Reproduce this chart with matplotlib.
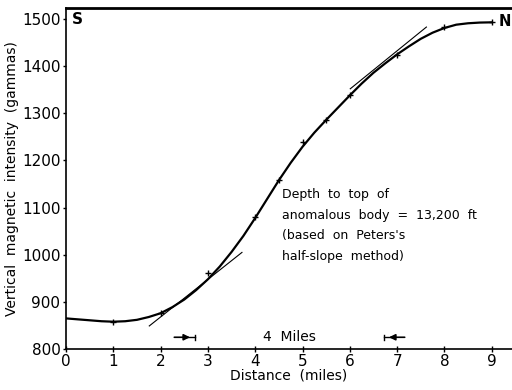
import matplotlib
matplotlib.use("Agg")
import matplotlib.pyplot as plt

# observed stations (miles, gammas)
obs_x = [1, 2, 3, 4, 4.5, 5, 5.5, 6, 7, 8, 9]
obs_y = [858, 877, 962, 1081, 1159, 1240, 1285, 1338, 1424, 1484, 1493]

# smoothed profile
curve_x = [0, 0.25, 0.5, 0.75, 1, 1.25, 1.5, 1.75, 2, 2.25, 2.5, 2.75, 3, 3.25,
           3.5, 3.75, 4, 4.25, 4.5, 4.75, 5, 5.25, 5.5, 5.75, 6, 6.25, 6.5, 6.75,
           7, 7.25, 7.5, 7.75, 8, 8.25, 8.5, 8.75, 9]
curve_y = [865, 863, 861, 859, 858, 859, 862, 868, 876, 889, 905, 925, 948, 975,
           1006, 1040, 1078, 1118, 1158, 1195, 1229, 1259, 1286, 1312, 1338, 1363,
           1386, 1406, 1425, 1442, 1458, 1471, 1481, 1488, 1491, 1492.5, 1493]

# half-slope tangents
tan_lo_x = [1.76, 3.72]
tan_lo_y = [849, 1005]
tan_hi_x = [6.01, 7.62]
tan_hi_y = [1352, 1483]

# "4 Miles" bracket
bar_left = 2.73
bar_right = 6.72
bar_y = 825

plt.rcParams['font.family'] = ['DejaVu Sans']

fig = plt.figure(figsize=(5.12, 3.9), dpi=100)
ax = fig.add_axes([0.129, 0.105, 0.871, 0.874])

ax.plot(curve_x, curve_y, color='black', lw=1.6)
ax.plot(obs_x, obs_y, '+', color='black', ms=5, mew=1)
ax.plot(tan_lo_x, tan_lo_y, color='black', lw=0.8)
ax.plot(tan_hi_x, tan_hi_y, color='black', lw=0.8)

# bracket arrows
ax.annotate('', xy=(bar_left - 0.05, bar_y), xytext=(bar_left - 0.5, bar_y),
            arrowprops=dict(arrowstyle='-|>', color='black', lw=1.2, mutation_scale=9))
ax.plot([bar_left - 0.2, bar_left], [bar_y, bar_y], color='black', lw=1)
ax.plot([bar_left, bar_left], [bar_y - 5, bar_y + 5], color='black', lw=1)
ax.annotate('', xy=(bar_right + 0.05, bar_y), xytext=(bar_right + 0.5, bar_y),
            arrowprops=dict(arrowstyle='-|>', color='black', lw=1.2, mutation_scale=9))
ax.plot([bar_right, bar_right + 0.2], [bar_y, bar_y], color='black', lw=1)
ax.plot([bar_right, bar_right], [bar_y - 5, bar_y + 5], color='black', lw=1)
ax.text((bar_left + bar_right) / 2, bar_y, '4  Miles', ha='center', va='center', fontsize=10)

ax.text(4.56, 1141, "Depth  to  top  of\nanomalous  body  =  13,200  ft\n(based  on  Peters's\nhalf-slope  method)",
        ha='left', va='top', fontsize=9, linespacing=1.75)

ax.text(0.12, 1500, 'S', ha='left', va='center', fontsize=11, fontweight='bold')
ax.text(9.15, 1495, 'N', ha='left', va='center', fontsize=10.5, fontweight='bold')

ax.set_xlim(0, 9.43)
ax.set_ylim(800, 1523)
ax.set_xticks(range(10))
ax.set_yticks(range(800, 1501, 100))
ax.tick_params(axis='x', direction='inout', length=5, width=1, labelsize=11, pad=1)
ax.tick_params(axis='y', direction='out', length=2, width=1, labelsize=11, pad=2)

ax.spines['right'].set_visible(False)
ax.spines['top'].set_linewidth(2)
ax.spines['left'].set_linewidth(1.2)
ax.spines['bottom'].set_linewidth(1.2)

ax.set_xlabel('Distance  (miles)', fontsize=10, labelpad=0)
ax.set_ylabel('Vertical  magnetic  intensity  (gammas)', fontsize=10, labelpad=2)

fig.savefig('out.png', dpi=100)
